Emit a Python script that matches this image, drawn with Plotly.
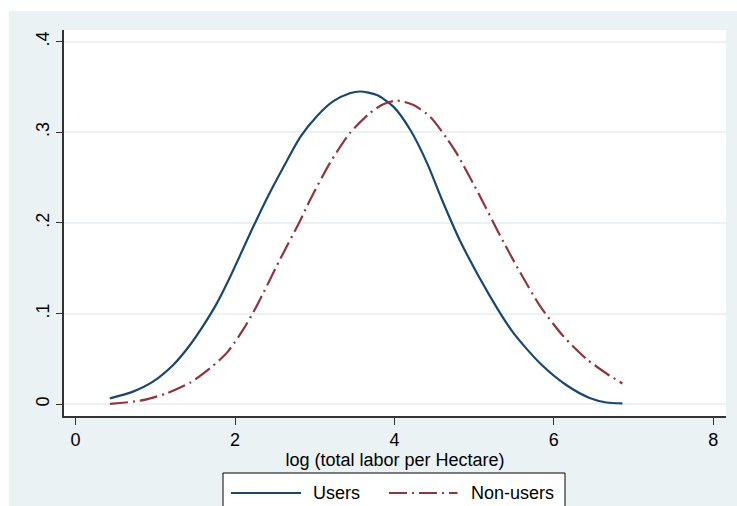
import plotly.graph_objects as go

# Data (kernel density estimates)
users_x = [0.43, 0.72, 0.97, 1.23, 1.44, 1.60, 1.77, 1.92, 2.23, 2.40, 2.61, 2.82,
           3.03, 3.23, 3.44, 3.57, 3.78, 3.99, 4.20, 4.41, 4.59, 4.82, 5.20, 5.49,
           5.83, 6.16, 6.45, 6.66, 6.86]
users_y = [0.0066, 0.014, 0.025, 0.044, 0.066, 0.0865, 0.111, 0.137, 0.196, 0.227, 0.262, 0.295,
           0.318, 0.334, 0.343, 0.345, 0.341, 0.328, 0.3025, 0.266, 0.227, 0.181, 0.119, 0.079,
           0.045, 0.021, 0.007, 0.002, 0.001]

nonusers_x = [0.43, 0.81, 1.14, 1.44, 1.69, 1.90, 2.10, 2.27, 2.56, 2.82, 2.94, 3.19,
              3.44, 3.69, 3.86, 4.03, 4.24, 4.45, 4.66, 4.78, 5.07, 5.32, 5.58, 5.83,
              6.12, 6.41, 6.66, 6.86]
nonusers_y = [0.0005, 0.004, 0.012, 0.024, 0.040, 0.057, 0.082, 0.108, 0.159, 0.203, 0.225, 0.266,
              0.299, 0.321, 0.331, 0.335, 0.330, 0.317, 0.293, 0.277, 0.230, 0.187, 0.145, 0.108,
              0.075, 0.050, 0.034, 0.023]

x_ticks = [0, 2, 4, 6, 8]
x_ticktext = ["0", "2", "4", "6", "8"]
y_ticks = [0, 0.1, 0.2, 0.3, 0.4]
y_ticktext = ["0", ".1", ".2", ".3", ".4"]

x_title = "log (total labor per Hectare)"
names = ["Users", "Non-users"]
colors = ["#1A476F", "#90353B"]
dash_nonusers = "18px,5px,2px,5px"

BG = "#EAF2F3"
FONT = "Liberation Sans, Arial, sans-serif"
FS = 18

fig = go.Figure()
fig.add_trace(go.Scatter(
    x=users_x, y=users_y, mode="lines", name=names[0],
    line=dict(color=colors[0], width=2.2, shape="spline", smoothing=0.7),
))
fig.add_trace(go.Scatter(
    x=nonusers_x, y=nonusers_y, mode="lines", name=names[1],
    line=dict(color=colors[1], width=2.2, shape="spline", smoothing=0.7,
              dash=dash_nonusers),
))

# white outer strips (top and left) as in the reference image
fig.add_shape(type="rect", xref="paper", yref="paper", x0=-0.2, x1=1.1,
              y0=1.0492, y1=1.2, fillcolor="white", line=dict(width=0), layer="below")
fig.add_shape(type="rect", xref="paper", yref="paper", x0=-0.2, x1=-0.0833,
              y0=-0.3, y1=1.2, fillcolor="white", line=dict(width=0), layer="below")

# manual legend (box, sample lines, labels) below the plot
fig.add_shape(type="rect", xref="paper", yref="paper", x0=0.2402, x1=0.7568,
              y0=-0.2694, y1=-0.1477, fillcolor="white",
              line=dict(color="black", width=1))
fig.add_shape(type="line", xref="paper", yref="paper", x0=0.2523, x1=0.3580,
              y0=-0.1995, y1=-0.1995, line=dict(color=colors[0], width=2.2))
fig.add_shape(type="line", xref="paper", yref="paper", x0=0.4909, x1=0.5944,
              y0=-0.1995, y1=-0.1995, line=dict(color=colors[1], width=2.2, dash=dash_nonusers))
fig.add_annotation(xref="paper", yref="paper", x=0.3731, y=-0.1995, text=names[0],
                   showarrow=False, xanchor="left", yanchor="middle",
                   font=dict(family=FONT, size=FS, color="black"))
fig.add_annotation(xref="paper", yref="paper", x=0.6125, y=-0.1995, text=names[1],
                   showarrow=False, xanchor="left", yanchor="middle",
                   font=dict(family=FONT, size=FS, color="black"))

fig.update_layout(
    width=737, height=506,
    margin=dict(l=64, r=11, t=30, b=90),
    paper_bgcolor=BG, plot_bgcolor="white",
    font=dict(family=FONT, size=FS, color="black"),
    showlegend=False,
    xaxis=dict(
        range=[-0.1455, 8.16], tickvals=x_ticks, ticktext=x_ticktext,
        showgrid=False, zeroline=False, automargin=False,
        showline=True, linecolor="#333333", linewidth=1.5,
        ticks="outside", ticklen=7, tickcolor="#333333", tickwidth=1.3,
        tickfont=dict(family=FONT, size=FS),
        title=dict(text=x_title, font=dict(family=FONT, size=FS), standoff=0),
    ),
    yaxis=dict(
        range=[-0.0129, 0.4128], tickvals=y_ticks, ticktext=y_ticktext,
        showgrid=True, gridcolor=BG, gridwidth=1.5, zeroline=False, automargin=False,
        showline=True, linecolor="#333333", linewidth=1.5,
        ticks="outside", ticklen=6, tickcolor="#333333", tickwidth=1.3,
        tickangle=-90,
        tickfont=dict(family=FONT, size=FS),
    ),
)

fig.write_html("out.html")
